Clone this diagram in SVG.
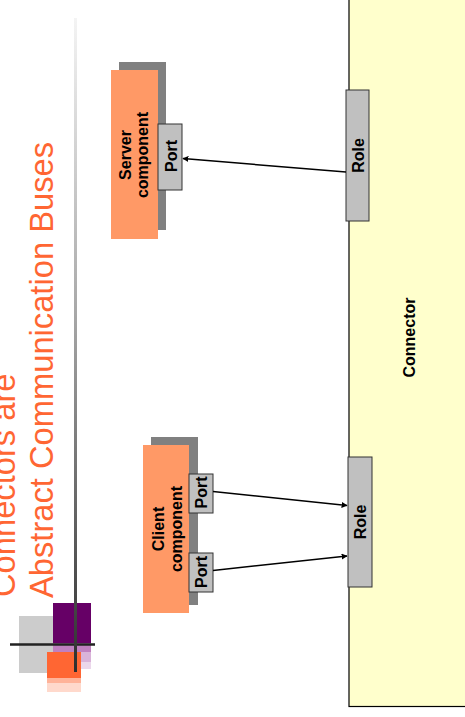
<svg xmlns="http://www.w3.org/2000/svg" width="465" height="717" viewBox="0 0 465 717">
  <defs>
    <linearGradient id="rule-v" x1="0" y1="0" x2="0" y2="1">
      <stop offset="0" stop-color="#f4f4f4"/>
      <stop offset="0.45" stop-color="#a8a8a8"/>
      <stop offset="1" stop-color="#2e2e2e"/>
    </linearGradient>
    <linearGradient id="rule-h" x1="0" y1="0" x2="1" y2="0">
      <stop offset="0" stop-color="#8a8a8a"/>
      <stop offset="0.3" stop-color="#111"/>
      <stop offset="0.7" stop-color="#333"/>
      <stop offset="1" stop-color="#666"/>
    </linearGradient>
    <marker id="arrow" viewBox="0 0 10 10" refX="9" refY="5" markerWidth="6" markerHeight="6" markerUnits="userSpaceOnUse" orient="auto">
      <path d="M0,0 L10,5 L0,10 z" fill="#000"/>
    </marker>
  </defs>
  <style>
    .title { font-family: "Liberation Sans", Arial, sans-serif; font-size: 32.7px; fill: #ff6633; }
    .label { font-family: "Liberation Sans", Arial, sans-serif; font-size: 16px; font-weight: bold; fill: #000; }
    .shadow { fill: #808080; }
    .body { fill: #ff9966; }
    .port { fill: #c0c0c0; stroke: #333; stroke-width: 1; }
    .wire { stroke: #000; stroke-width: 1.5; fill: none; marker-end: url(#arrow); }
  </style>

  <rect width="465" height="717" fill="#fff"/>

  <!-- decorative logo -->
  <g id="logo">
    <rect x="19" y="616" width="34" height="57" fill="#cccccc"/>
    <rect x="53" y="603" width="38" height="40" fill="#660066"/>
    <rect x="53" y="643" width="38" height="9" fill="#c080c0"/>
    <rect x="53" y="652" width="38" height="10" fill="#d9b3d9"/>
    <rect x="53" y="662" width="38" height="7" fill="#ebd7eb"/>
    <rect x="47" y="652" width="34" height="26" fill="#ff6633"/>
    <rect x="47" y="678" width="34" height="5" fill="#ffb399"/>
    <rect x="47" y="683" width="34" height="9" fill="#ffd9cc"/>
    <line x1="10" y1="644.5" x2="95" y2="644.5" stroke="#222" stroke-width="2.5"/>
  </g>
  <rect id="rule" x="74" y="18" width="3" height="654" fill="url(#rule-v)"/>
  <line x1="79" y1="341" x2="328" y2="341" stroke="url(#rule-h)" stroke-width="2"/>

  <!-- slide title -->
  <g id="title">
    <text class="title" transform="translate(15,597) rotate(-90)">Connectors are</text>
    <text class="title" transform="translate(53,598) rotate(-90)">Abstract Communication Buses</text>
  </g>

  <!-- connector bus -->
  <g id="connector">
    <rect x="349" y="-5" width="130" height="711.5" fill="#ffffcc" stroke="#000" stroke-width="1.2"/>
    <text class="label" transform="translate(415,337.5) rotate(-90)" text-anchor="middle">Connector</text>
  </g>

  <g id="server-role">
    <rect class="port" x="346" y="90" width="23" height="131"/>
    <text class="label" transform="translate(363.5,155.5) rotate(-90)" text-anchor="middle">Role</text>
  </g>

  <g id="client-role">
    <rect class="port" x="348" y="457" width="24" height="130"/>
    <text class="label" transform="translate(366,522) rotate(-90)" text-anchor="middle">Role</text>
  </g>

  <!-- server component -->
  <g id="server">
    <rect class="shadow" x="119" y="62" width="47" height="168"/>
    <rect class="body" x="111" y="70" width="47" height="169"/>
    <text class="label" transform="translate(130.5,155) rotate(-90)" text-anchor="middle">Server</text>
    <text class="label" transform="translate(147.6,155) rotate(-90)" text-anchor="middle">component</text>
  </g>
  <g id="server-port">
    <rect class="port" x="158" y="124" width="24" height="66"/>
    <text class="label" transform="translate(177,156) rotate(-90)" text-anchor="middle">Port</text>
  </g>

  <!-- client component -->
  <g id="client">
    <rect class="shadow" x="151" y="437" width="47" height="168"/>
    <rect class="body" x="143" y="445" width="46" height="168"/>
    <text class="label" transform="translate(163.5,529) rotate(-90)" text-anchor="middle">Client</text>
    <text class="label" transform="translate(181.5,529) rotate(-90)" text-anchor="middle">component</text>
  </g>
  <g id="client-port-1">
    <rect class="port" x="189" y="474" width="24" height="39"/>
    <text class="label" transform="translate(207,492.5) rotate(-90)" text-anchor="middle">Port</text>
  </g>
  <g id="client-port-2">
    <rect class="port" x="189" y="553" width="24" height="39"/>
    <text class="label" transform="translate(207,572) rotate(-90)" text-anchor="middle">Port</text>
  </g>

  <!-- attachments -->
  <g id="connectors">
    <line class="wire" x1="346" y1="172" x2="183" y2="158.5"/>
    <line class="wire" x1="213" y1="491.5" x2="347" y2="505.5"/>
    <line class="wire" x1="213" y1="570.5" x2="347" y2="556"/>
  </g>
</svg>
